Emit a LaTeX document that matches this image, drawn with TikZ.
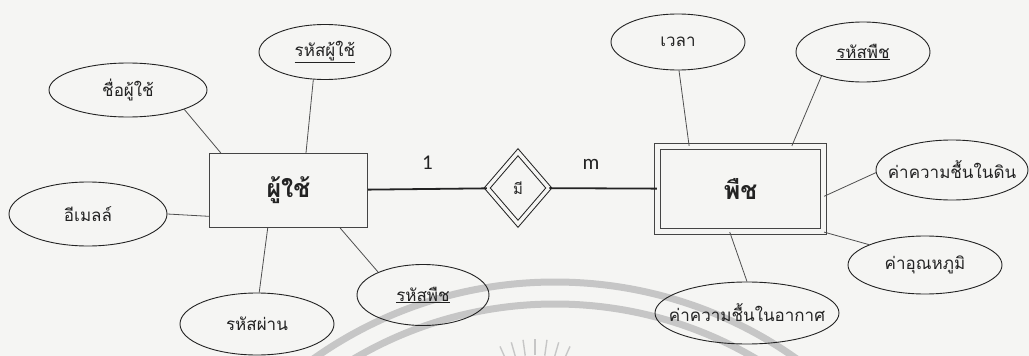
\documentclass[tikz,border=0pt]{standalone}
\usepackage{fontspec}
\setmainfont{Carlito}
\newfontfamily\thaifont[Script=Thai]{Loma}
\usetikzlibrary{shapes.geometric,calc}
\definecolor{bg}{RGB}{245,245,243}
\definecolor{ink}{RGB}{35,35,35}
\definecolor{wm}{RGB}{198,198,198}
\newcommand\zwbox[1]{\makebox[0pt]{#1}}
\tikzset{
  attr/.style={ellipse, draw=ink, line width=0.9pt, inner sep=0pt,
    font=\thaifont\fontsize{17}{20}\selectfont, text=ink},
  ent/.style={rectangle, draw=ink!85, line width=1.2pt, inner sep=0pt,
    font=\thaifont\bfseries\fontsize{25}{29}\selectfont, text=ink},
  link/.style={draw=ink!80, line width=0.8pt},
  rlink/.style={draw=ink, line width=1.8pt},
  card/.style={font=\fontsize{21}{24}\selectfont, text=ink, inner sep=0pt, anchor=base, yshift=19pt},
  wmark/.style={draw=wm, line width=7pt},
}
\begin{document}
\begin{tikzpicture}[x=1pt,y=-1pt]
\useasboundingbox[fill=bg] (0,0) rectangle (1029,356);
% watermark of the scanned page
\begin{scope}
  \clip (0,0) rectangle (1029,356);
  \draw[wmark] (555,700) circle[radius=418];
  \draw[wmark] (555,700) circle[radius=396];
  \foreach \a in {-66,-74,-82,-90,-98,-106,-114}
    \draw[draw=wm, line width=1.4pt] ($(535,425)+(\a:70)$) -- ($(535,425)+(\a:86)$);
\end{scope}

% entities
\node[ent, minimum width=157.8pt, minimum height=73.8pt] (user) at (288.5,190.5) {ผู้ใช้};
\node[ent, double=bg, double distance=4.5pt, minimum width=166pt, minimum height=85pt] (plant) at (740.5,189) {พืช};

% relationship
\node[diamond, draw=ink, line width=1pt, double=bg, double distance=3.5pt,
      minimum width=62pt, minimum height=72pt, inner sep=0pt,
      font=\thaifont\fontsize{15}{17}\selectfont, text=ink] (rel) at (518,188) {มี};

% attributes of user
\node[attr, minimum width=132pt, minimum height=55pt] (uid) at (325,52) {\zwbox{\underline{รหัสผู้ใช้}}};
\node[attr, minimum width=158pt, minimum height=54pt] (uname) at (128,90) {\zwbox{ชื่อผู้ใช้}};
\node[attr, minimum width=158pt, minimum height=64pt] (email) at (88,214) {\zwbox{อีเมลล์}};
\node[attr, minimum width=154pt, minimum height=62pt] (pwd) at (257,324) {\zwbox{รหัสผ่าน}};
\node[attr, minimum width=132pt, minimum height=61pt] (pidL) at (423,295) {\zwbox{\underline{รหัสพืช}}};

% attributes of plant
\node[attr, minimum width=134pt, minimum height=56pt] (time) at (678,42) {\zwbox{เวลา}};
\node[attr, minimum width=134pt, minimum height=60pt] (pidR) at (863,52) {\zwbox{\underline{รหัสพืช}}};
\node[attr, minimum width=152pt, minimum height=60pt] (soil) at (952,170) {\zwbox{ค่าความชื้นในดิน}};
\node[attr, minimum width=154pt, minimum height=58pt] (temp) at (925,265) {\zwbox{ค่าอุณหภูมิ}};
\node[attr, minimum width=184pt, minimum height=62pt] (air) at (747,313) {\zwbox{ค่าความชื้นในอากาศ}};

% connectors
\draw[link] (uname.-19) -- (user.151);
\draw[link] (uid.-113) -- (user.65);
\draw[link] (email.east) -- (user.198);
\draw[link] (pwd.86) -- (user.-119);
\draw[link] (pidL.153) -- (user.-36);

\draw[link] (time.-88) -- (plant.140);
\draw[link] (pidR.-150) -- (plant.40);
\draw[link] (soil.182) -- (plant.-5);
\draw[link] (temp.160) -- (plant.south east);
\draw[link] (air.north) -- (plant.-104);

\draw[rlink] (user) -- node[card, midway] (c1) {1} (rel);
\draw[rlink] (rel) -- node[card, pos=0.386] (cm) {m} (plant);
\end{tikzpicture}
\end{document}
